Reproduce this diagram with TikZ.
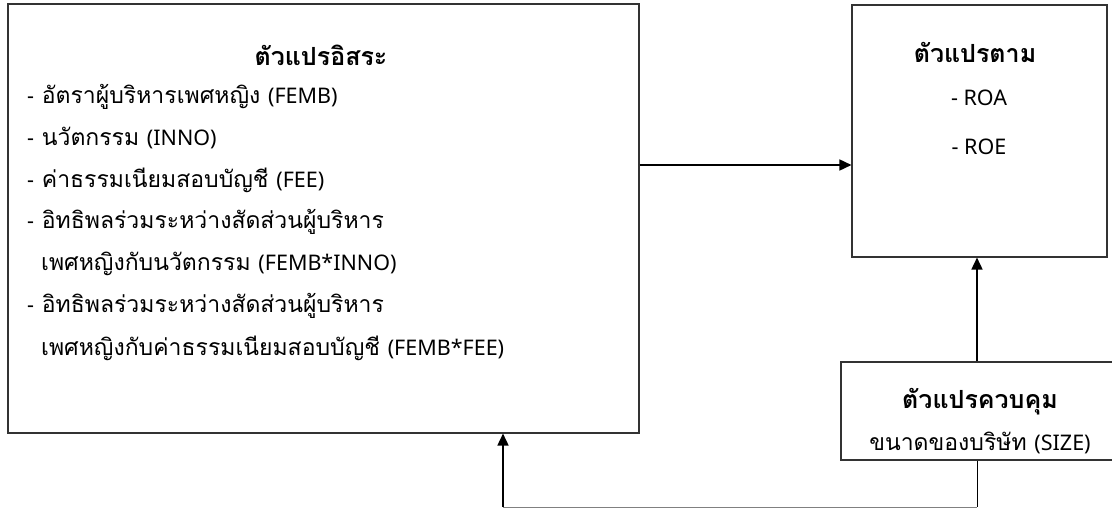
\documentclass[tikz,border=0pt]{standalone}
\usepackage{fontspec}
\setmainfont{Loma}[Script=Thai]
\newfontfamily\latf{Noto Sans}
\newcommand{\lat}[1]{{\latf\fontsize{21.5pt}{24pt}\selectfont #1}}
\usetikzlibrary{arrows.meta}
\tikzset{
  box/.style={draw=black!80, line width=1.1pt, fill=white, inner sep=0pt},
  txt/.style={inner sep=0pt, font=\fontsize{23pt}{26pt}\selectfont},
  ttl/.style={inner sep=0pt, font=\fontsize{25pt}{28pt}\selectfont\bfseries},
  conn/.style={line width=1.6pt, -{Triangle[length=12pt,width=11pt]}},
  plain/.style={line width=1pt}
}
\begin{document}
\begin{tikzpicture}[x=1pt,y=-1pt]
\useasboundingbox (0,0) rectangle (1112,508);
\begin{scope}
\clip (0,0) rectangle (1112,508);
% boxes
\node[box, minimum width=631pt, minimum height=429pt] (iv) at (323.5,218.5) {};
\node[box, minimum width=255pt, minimum height=252pt] (dv) at (979.5,131) {};
\node[box, minimum width=280pt, minimum height=98pt] (cv) at (981,411) {};
% left box text
\node[ttl] (ivt) at (321,55) {ตัวแปรอิสระ};
\node[txt, anchor=west] (iv1) at (27,97) {\lat{-} อัตราผู้บริหารเพศหญิง \lat{(FEMB)}};
\node[txt, anchor=west] (iv2) at (27,138) {\lat{-} นวัตกรรม \lat{(INNO)}};
\node[txt, anchor=west] (iv3) at (27,180) {\lat{-} ค่าธรรมเนียมสอบบัญชี \lat{(FEE)}};
\node[txt, anchor=west] (iv4) at (27,222) {\lat{-} อิทธิพลร่วมระหว่างสัดส่วนผู้บริหาร};
\node[txt, anchor=west] (iv5) at (41,264) {เพศหญิงกับนวัตกรรม \lat{(FEMB*INNO)}};
\node[txt, anchor=west] (iv6) at (27,306) {\lat{-} อิทธิพลร่วมระหว่างสัดส่วนผู้บริหาร};
\node[txt, anchor=west] (iv7) at (41,348) {เพศหญิงกับค่าธรรมเนียมสอบบัญชี \lat{(FEMB*FEE)}};
% right box text
\node[ttl] (dvt) at (975,52) {ตัวแปรตาม};
\node[txt] (dv1) at (979,98) {\lat{- ROA}};
\node[txt] (dv2) at (979,147) {\lat{- ROE}};
% control box text
\node[ttl] (cvt) at (980,402) {ตัวแปรควบคุม};
\node[txt] (cv1) at (980,443) {ขนาดของบริษัท \lat{(SIZE)}};
% connectors
\draw[conn] (iv.east |- 0,165) -- (dv.west |- 0,165);
\draw[conn] (cv.north -| 977,0) -- (dv.south -| 977,0);
\coordinate (b1) at (977,507);
\coordinate (b2) at (503,507);
\draw[plain] (cv.south -| 977,0) -- (b1);
\draw[plain, black!50] (b1) -- (b2);
\draw[conn] (b2) -- (iv.south -| 503,0);
\end{scope}
\end{tikzpicture}
\end{document}
